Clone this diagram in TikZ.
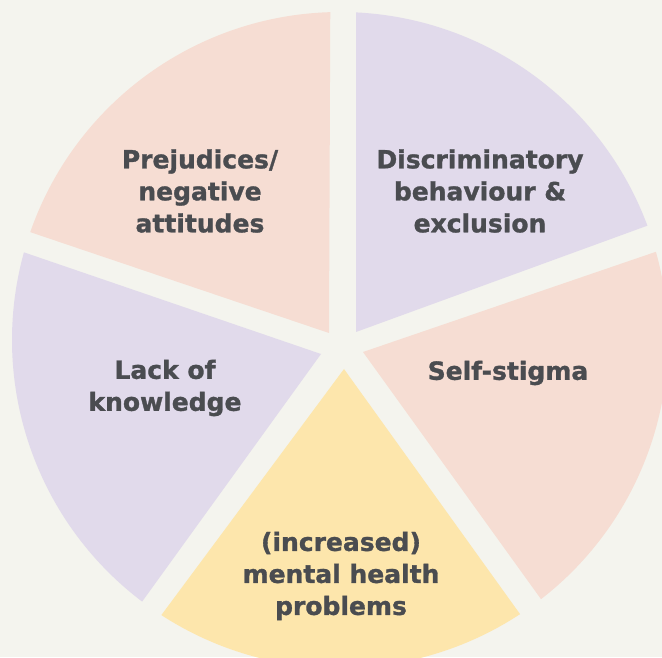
\documentclass[tikz,border=0pt]{standalone}
\usepackage{fontspec}
\setmainfont{DejaVu Sans}[BoldFeatures={FakeBold=1.2}]
\usetikzlibrary{calc}
\definecolor{bgc}{RGB}{244,244,238}
\definecolor{peach}{RGB}{246,221,211}
\definecolor{lav}{RGB}{225,218,235}
\definecolor{yel}{RGB}{253,230,172}
\definecolor{txtc}{RGB}{74,76,80}
\tikzset{
  slice/.style={draw=none},
  lbl/.style={font=\bfseries\fontsize{25}{32}\selectfont, text=txtc, align=center, inner sep=0pt}
}
\begin{document}
\begin{tikzpicture}[x=1pt,y=1pt]
\fill[bgc] (0,0) rectangle (662,657);
\useasboundingbox (0,0) rectangle (662,657);
\coordinate (C) at (340,317);
\def\R{328}
% top-left peach
\coordinate (a1) at (329,324);
\fill[peach,slice] (a1) -- ($(C)+(160.8:\R)$) arc[start angle=160.8, end angle=91.7, radius=\R] -- cycle;
% top-right lavender
\coordinate (a2) at (356,325);
\fill[lav,slice] (a2) -- ($(C)+(87.2:\R)$) arc[start angle=87.2, end angle=20.4, radius=\R] -- cycle;
% right peach
\coordinate (a3) at (363,305);
\fill[peach,slice] (a3) -- ($(C)+(15.6:\R)$) arc[start angle=15.6, end angle=-52.2, radius=\R] -- cycle;
% bottom yellow
\coordinate (a4) at (344,288);
\fill[yel,slice] (a4) -- ($(C)+(-56.7:\R)$) arc[start angle=-56.7, end angle=-123, radius=\R] -- cycle;
% left lavender
\coordinate (a5) at (321,303);
\fill[lav,slice] (a5) -- ($(C)+(232.9:\R)$) arc[start angle=232.9, end angle=164.5, radius=\R] -- cycle;
% labels
\node[lbl] (t1) at (200,466) {Prejudices/\\negative\\attitudes};
\node[lbl] (t2) at (480,466) {Discriminatory\\behaviour \&\\exclusion};
\node[lbl] (t3) at (508,284) {Self-stigma};
\node[lbl] (t4) at (341,81) {(increased)\\mental health\\problems};
\node[lbl] (t5) at (165,269) {Lack of\\knowledge};
\end{tikzpicture}
\end{document}
